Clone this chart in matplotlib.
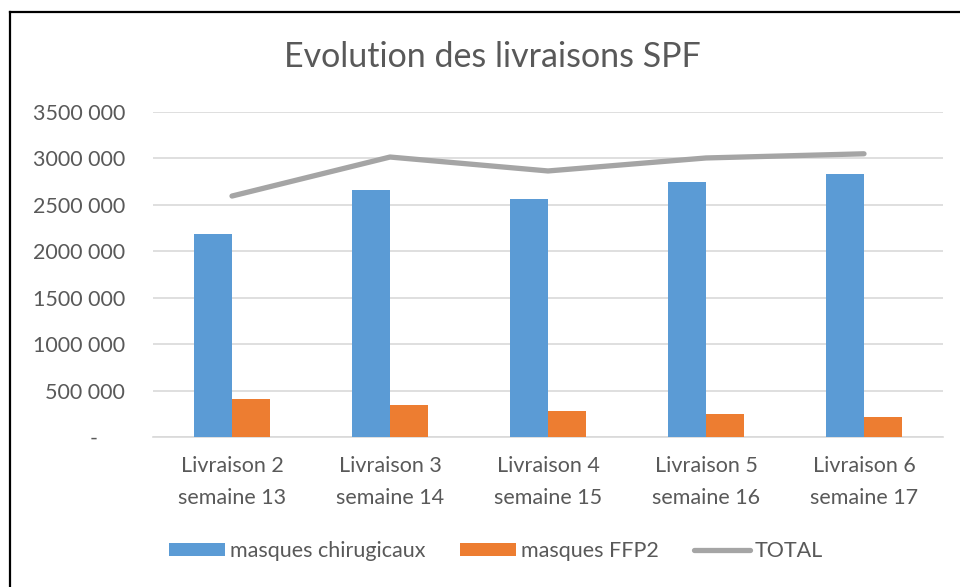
import matplotlib
matplotlib.use("Agg")
import matplotlib.pyplot as plt
from matplotlib.lines import Line2D
import numpy as np

categories = ["Livraison 2\nsemaine 13", "Livraison 3\nsemaine 14", "Livraison 4\nsemaine 15",
              "Livraison 5\nsemaine 16", "Livraison 6\nsemaine 17"]
chirurgicaux = [2186000, 2663000, 2566000, 2749000, 2832000]
ffp2 = [409000, 345000, 283000, 244000, 219000]
total = [2595000, 3015000, 2865000, 3005000, 3050000]
yticks = [0, 500000, 1000000, 1500000, 2000000, 2500000, 3000000, 3500000]
ytick_labels = ["-     ", "500 000", "1000 000", "1500 000", "2000 000", "2500 000", "3000 000", "3500 000"]
title = "Evolution des livraisons SPF"

plt.rcParams['font.family'] = ['Lato', 'DejaVu Sans']
W, H = 960, 587
fig = plt.figure(figsize=(W/100, H/100), dpi=100)
ax = fig.add_axes([153/W, 1-437/H, (943-153)/W, (437-112)/H])

blue = "#5B9BD5"
orange = "#ED7D31"
gray = "#A5A5A5"
txt = "#595959"
fs = 15.5

x = np.arange(len(categories))
bw = 0.24
b1 = ax.bar(x - bw/2, chirurgicaux, bw, color=blue, label="masques chirugicaux", zorder=3)
b2 = ax.bar(x + bw/2, ffp2, bw, color=orange, label="masques FFP2", zorder=3)
l1, = ax.plot(x, total, color=gray, lw=3.8, solid_capstyle='round', solid_joinstyle='round',
              label="TOTAL", zorder=4)

ax.set_xlim(-0.5, len(categories)-0.5)
ax.set_ylim(0, 3500000)
ax.set_yticks(yticks)
ax.set_yticklabels(ytick_labels)
ax.set_xticks(x)
ax.set_xticklabels(categories, linespacing=1.7)
ax.tick_params(axis='both', length=0, colors=txt, labelsize=fs)
ax.tick_params(axis='y', pad=20)
ax.tick_params(axis='x', pad=14)
ax.grid(axis='y', color="#D9D9D9", lw=1.2, zorder=0)
for s in ['top', 'right', 'left']:
    ax.spines[s].set_visible(False)
ax.spines['bottom'].set_color("#D9D9D9")
ax.spines['bottom'].set_linewidth(1.2)

fig.text(492/W, 1-57/H, title, ha='center', va='center', fontsize=24.5, color=txt)

leg = fig.legend([b1, b2, l1], ["masques chirugicaux", "masques FFP2", "TOTAL"],
                 loc='center', bbox_to_anchor=(496/W, 1-551/H), ncol=3, frameon=False,
                 fontsize=fs, handlelength=2.6, handleheight=0.55, handletextpad=0.25,
                 columnspacing=1.6)
for t in leg.get_texts():
    t.set_color(txt)

# border (left and top edges of the chart frame)
fig.add_artist(Line2D([9.5/W, 9.5/W], [0, 1-11.5/H], color='black', lw=1.6, transform=fig.transFigure))
fig.add_artist(Line2D([9.5/W, 1], [1-11.5/H, 1-11.5/H], color='black', lw=1.6, transform=fig.transFigure))

fig.savefig("out.png", dpi=100, facecolor='white')
